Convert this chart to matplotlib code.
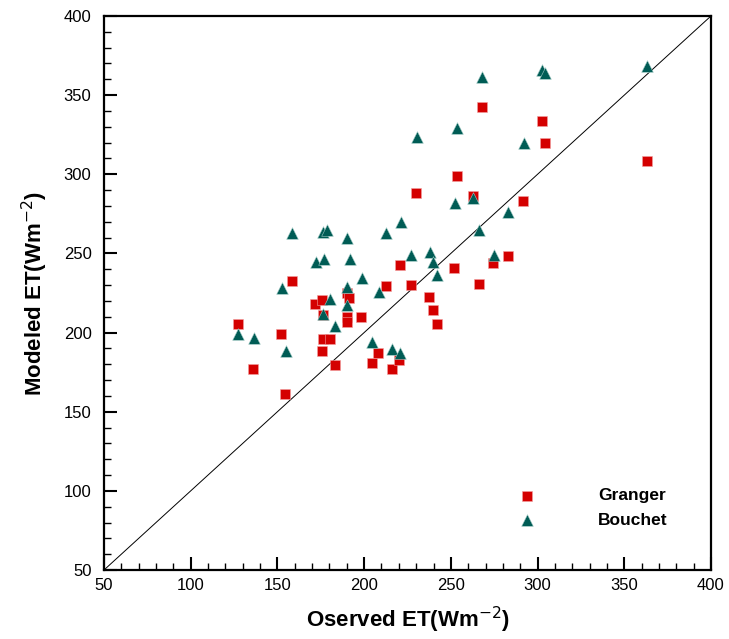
import matplotlib.pyplot as plt
import numpy as np
from matplotlib.ticker import MultipleLocator

plt.rcParams['font.family'] = ['Liberation Sans', 'DejaVu Sans']

# Granger model (red squares): observed vs modeled ET
granger_obs = [127.3, 136.1, 152.1, 154.4, 158.2, 171.7, 175.5, 176.1, 176.5, 180.3,
               175.5, 183.2, 190.0, 191.4, 190.0, 190.0, 198.2, 204.4, 208.2, 212.4,
               216.3, 220.1, 220.9, 226.8, 229.9, 237.6, 239.9, 242.2, 251.8, 253.4,
               262.6, 266.3, 267.8, 274.5, 283.0, 291.8, 302.6, 304.0, 362.9]
granger_mod = [205.2, 177.0, 199.3, 161.2, 232.8, 217.9, 220.6, 211.1, 196.0, 196.0,
               188.6, 179.3, 224.8, 221.7, 210.0, 206.9, 210.0, 181.0, 186.9, 229.4,
               177.0, 182.7, 242.7, 230.3, 288.4, 222.7, 214.3, 205.2, 241.0, 299.1,
               286.3, 230.9, 342.3, 243.8, 248.4, 283.3, 333.9, 320.0, 308.4]

# Bouchet model (teal triangles)
bouchet_obs = [127.4, 136.5, 152.4, 155.0, 158.6, 172.0, 176.1, 178.4, 176.9, 176.1,
               180.5, 183.3, 190.1, 191.6, 190.3, 190.3, 198.6, 204.7, 208.6, 212.6,
               216.3, 220.7, 221.0, 227.2, 230.3, 237.8, 239.9, 242.2, 252.4, 253.8,
               263.0, 266.4, 268.2, 274.9, 283.2, 292.3, 302.8, 304.2, 363.2]
bouchet_mod = [199.1, 196.8, 228.0, 188.2, 263.1, 244.8, 263.4, 264.8, 246.3, 211.5,
               221.0, 204.2, 259.7, 246.3, 229.0, 217.3, 234.7, 193.9, 225.6, 263.1,
               189.4, 187.3, 269.7, 248.8, 323.8, 250.7, 244.8, 236.2, 282.1, 329.4,
               284.8, 264.6, 361.7, 248.8, 276.2, 319.6, 365.8, 364.2, 368.6]

fig = plt.figure(figsize=(7.29, 6.39), dpi=100)
ax = fig.add_axes([0.1427, 0.108, 0.8326, 0.867])

ax.plot([50, 400], [50, 400], color="black", lw=0.7, zorder=1)
ax.scatter(granger_obs, granger_mod, marker="s", s=55, color="#d40000",
           edgecolors="#f2a0a0", linewidths=0.4, label="Granger", zorder=3)
ax.scatter(bouchet_obs, bouchet_mod, marker="^", s=70, color="#005c55",
           edgecolors="#9fc9c4", linewidths=0.4, label="Bouchet", zorder=3)

ax.set_xlim(50, 400)
ax.set_ylim(50, 400)
ax.xaxis.set_major_locator(MultipleLocator(50))
ax.xaxis.set_minor_locator(MultipleLocator(10))
ax.yaxis.set_major_locator(MultipleLocator(50))
ax.yaxis.set_minor_locator(MultipleLocator(10))
ax.tick_params(which="both", direction="in", top=False, right=False, labelsize=12)
ax.tick_params(which="major", length=9.5, width=1.5)
ax.tick_params(which="minor", length=5, width=1)
ax.tick_params(axis="y", pad=9)
ax.tick_params(axis="x", pad=6)
for sp in ax.spines.values():
    sp.set_linewidth(1.6)

ax.set_xlabel("Oserved ET(Wm$^{-2}$)", fontsize=16, fontweight="bold", labelpad=8)
ax.set_ylabel("Modeled ET(Wm$^{-2}$)", fontsize=16, fontweight="bold", labelpad=10)

leg = ax.legend(loc="upper left", bbox_to_anchor=(0.657, 0.176), frameon=False,
                handlelength=1.0, handletextpad=3.6, labelspacing=0.55,
                prop={"size": 12.5, "weight": "bold"})

plt.savefig("out.png", dpi=100)
